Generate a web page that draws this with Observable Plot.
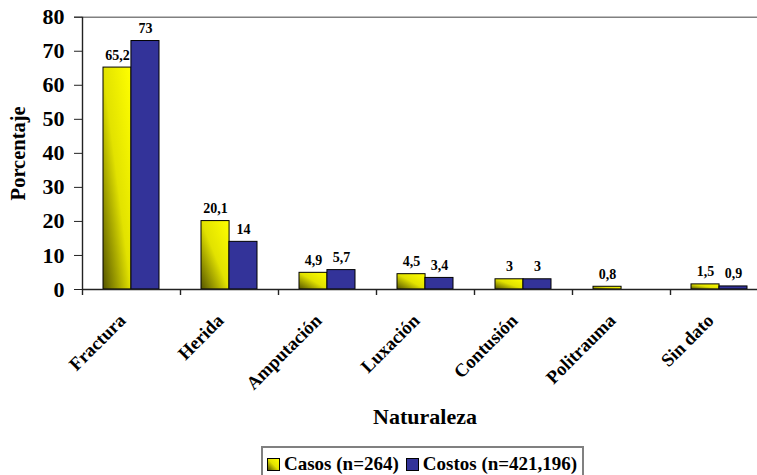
<!DOCTYPE html>
<html lang="es">
<head>
<meta charset="utf-8">
<script src="https://cdn.jsdelivr.net/npm/d3@7"></script>
<script src="https://cdn.jsdelivr.net/npm/@observablehq/plot@0.6"></script>
<style>
  html, body { margin: 0; padding: 0; background: #fff; }
  body { width: 757px; height: 475px; overflow: hidden; position: relative;
         font-family: 'Liberation Serif', 'DejaVu Serif', serif; }
  #grafico svg { display: block; }
  #grafico svg text { font-family: 'Liberation Serif', 'DejaVu Serif', serif; }
  .leyenda { position: absolute; left: 261px; top: 446px; width: 323px; height: 34px;
             border: 2px solid #808080; background: #fff; display: flex; align-items: flex-start;
             padding-top: 6px; box-sizing: border-box; font-weight: bold; font-size: 19px; color: #000;
             white-space: nowrap; }
  .item { display: flex; align-items: center; margin-left: 4px; margin-right: 3px; line-height: 20px; }
  .muestra { width: 11px; height: 11px; border: 1px solid #000; margin-right: 4px; flex: none; }
</style>
</head>
<body>
<div id="grafico"></div>
<div class="leyenda" id="leyenda"></div>
<script>
// Naturaleza de la lesión: porcentaje de casos y de costos
const categorias = ["Fractura", "Herida", "Amputación", "Luxación", "Contusión", "Politrauma", "Sin dato"];
const casos  = [65.2, 20.1, 4.9, 4.5, 3, 0.8, 1.5];
const costos = [73, 14, 5.7, 3.4, 3, null, 0.9];
const ticksY = [0, 10, 20, 30, 40, 50, 60, 70, 80];
const series = ["Casos (n=264)", "Costos (n=421,196)"];

const filas = categorias.map((categoria, i) => ({categoria, casos: casos[i], costos: costos[i]}));
const conCostos = filas.filter(d => d.costos != null);
const coma = v => String(v).replace(".", ",");

// geometría de las bandas
const izquierda = 82, derecha = 768;
const paso = (derecha - izquierda) / categorias.length;
const relleno = 0.43;
const ancho = paso * (1 - relleno);
const mitad = ancho / 2;

const fuente = "'Liberation Serif', 'DejaVu Serif', serif";

const svg = Plot.plot({
  width: 757,
  height: 446,
  marginLeft: izquierda,
  marginRight: 0,
  marginTop: 16.7,
  marginBottom: 157,
  style: {fontFamily: fuente, fontWeight: "bold", color: "#000", background: "#fff", overflow: "visible"},
  x: {type: "band", domain: categorias, range: [izquierda, derecha], paddingInner: relleno, paddingOuter: relleno / 2, axis: null},
  y: {domain: [0, 80], axis: null},
  marks: [
    // línea superior a 80
    Plot.ruleY([80], {stroke: "#808080", strokeWidth: 1.6, insetLeft: -8}),
    // barras
    Plot.barY(filas, {x: "categoria", y: "casos", fill: "url(#gradCasos)", stroke: "#000", strokeWidth: 1, insetRight: mitad}),
    Plot.barY(conCostos, {x: "categoria", y: "costos", fill: "#333399", stroke: "#000", strokeWidth: 1, insetLeft: mitad}),
    // ejes
    Plot.ruleY([0], {stroke: "#222", strokeWidth: 1.6}),
    Plot.ruleX([categorias[0]], {x: d => d, dx: -paso / 2, y1: 0, y2: 80, stroke: "#222", strokeWidth: 1.4}),
    Plot.ruleX(categorias, {x: d => d, dx: -paso / 2, y1: 0, y2: 0, insetBottom: -6, stroke: "#222", strokeWidth: 1.4}),
    Plot.axisY(ticksY, {tickSize: 8, tickPadding: 10, fontSize: 22, fontWeight: "bold", stroke: "#222", label: null}),
    // valores
    Plot.text(filas, {x: "categoria", y: "casos", text: d => coma(d.casos), dx: -mitad / 2, dy: -8, lineAnchor: "bottom", fontSize: 14, fontWeight: "bold", fill: "#000"}),
    Plot.text(conCostos, {x: "categoria", y: "costos", text: d => coma(d.costos), dx: mitad / 2, dy: -8, lineAnchor: "bottom", fontSize: 14, fontWeight: "bold", fill: "#000"}),
    // etiquetas de categoría
    Plot.text(categorias, {x: d => d, text: d => d, frameAnchor: "bottom", rotate: -45, textAnchor: "end", lineAnchor: "middle", dx: -9, dy: 28, fontSize: 18.5, fontWeight: "bold", fill: "#000"}),
    // títulos de los ejes
    Plot.text(["Naturaleza"], {frameAnchor: "bottom", text: d => d, textAnchor: "middle", dx: 5, dy: 134, lineAnchor: "bottom", fontSize: 22, fontWeight: "bold", fill: "#000"}),
    Plot.text(["Porcentaje"], {frameAnchor: "left", text: d => d, rotate: -90, textAnchor: "middle", dx: -64, lineAnchor: "middle", fontSize: 20.5, fontWeight: "bold", fill: "#000"})
  ]
});

// degradado de las barras de casos
const defs = d3.select(svg).insert("defs", ":first-child");
const grad = defs.append("linearGradient").attr("id", "gradCasos")
  .attr("x1", 0).attr("y1", 1).attr("x2", 1).attr("y2", 0);
grad.append("stop").attr("offset", "0").attr("stop-color", "#555500");
grad.append("stop").attr("offset", "0.5").attr("stop-color", "#e2e200");
grad.append("stop").attr("offset", "1").attr("stop-color", "#ffff00");

document.getElementById("grafico").appendChild(svg);

// leyenda
const muestras = ["linear-gradient(to top right, #555500, #e2e200 50%, #ffff00)", "#333399"];
const leyenda = d3.select("#leyenda");
series.forEach((s, i) => {
  const item = leyenda.append("div").attr("class", "item");
  item.append("div").attr("class", "muestra").style("background", muestras[i]);
  item.append("span").text(s);
});
</script>
</body>
</html>
